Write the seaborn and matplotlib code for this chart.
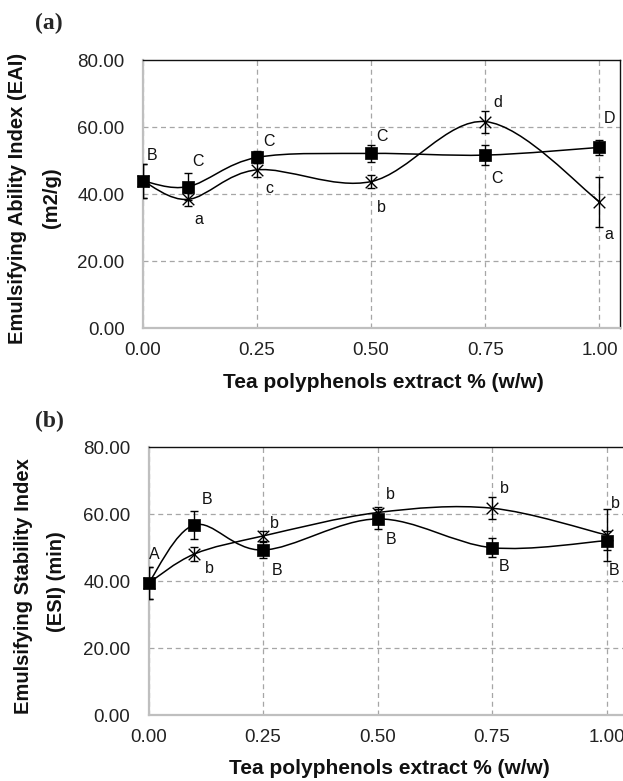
import numpy as np
import matplotlib
matplotlib.use("Agg")
import matplotlib.pyplot as plt
import seaborn as sns
from matplotlib.path import Path
from matplotlib.patches import PathPatch

# Tea polyphenols extract levels
conc = [0.0, 0.1, 0.25, 0.5, 0.75, 1.0]

# (a) EAI, m2/g
eai_sq = [44.0, 42.3, 51.0, 52.2, 51.7, 54.0]
eai_sq_err = [5.0, 4.1, 1.8, 2.6, 2.9, 2.3]
eai_x = [44.0, 38.5, 47.3, 43.8, 61.7, 37.8]
eai_x_err = [5.0, 2.0, 2.0, 2.0, 3.3, 7.5]

# (b) ESI, min
esi_sq = [39.4, 56.8, 49.3, 58.6, 50.0, 52.1]
esi_sq_err = [4.8, 4.3, 2.5, 3.0, 2.9, 2.8]
esi_x = [39.4, 48.1, 53.5, 60.5, 61.8, 53.8]
esi_x_err = [4.8, 2.0, 1.6, 1.8, 3.2, 7.7]

# significance letters (text, x, y)
eai_letters = [("B", 0.020, 51.5), ("C", 0.122, 49.7), ("a", 0.122, 32.5),
               ("C", 0.277, 55.7), ("c", 0.278, 41.8), ("C", 0.523, 57.4),
               ("b", 0.523, 36.1), ("d", 0.777, 67.5), ("C", 0.776, 44.8),
               ("D", 1.021, 62.5), ("a", 1.021, 27.9)]
esi_letters = [("A", 0.013, 48.1), ("B", 0.128, 64.5), ("b", 0.132, 43.9),
               ("b", 0.274, 57.1), ("B", 0.281, 43.3), ("b", 0.528, 65.8),
               ("B", 0.530, 52.3), ("b", 0.776, 67.8), ("B", 0.777, 44.5),
               ("b", 1.020, 63.1), ("B", 1.016, 43.3)]

yticks = [0, 20, 40, 60, 80]
xticks = [0.0, 0.25, 0.5, 0.75, 1.0]

sns.set_theme(style="white")
plt.rcParams['font.family'] = ['Liberation Sans', 'DejaVu Sans']


def smooth_path(x, y):
    # Excel-style smoothed line (Catmull-Rom as cubic Bezier)
    pts = np.column_stack([x, y]).astype(float)
    n = len(pts)
    verts = [pts[0]]
    codes = [Path.MOVETO]
    for i in range(n - 1):
        p0 = pts[max(i - 1, 0)]
        p1 = pts[i]
        p2 = pts[i + 1]
        p3 = pts[min(i + 2, n - 1)]
        verts += [p1 + (p2 - p0) / 6, p2 - (p3 - p1) / 6, p2]
        codes += [Path.CURVE4] * 3
    return Path(verts, codes)


def draw_panel(ax, sq, sq_err, xs, xs_err, letters):
    ax.set_xlim(0, 1.045)
    ax.set_ylim(0, 80)
    ax.set_xticks(xticks)
    ax.set_yticks(yticks)
    ax.set_xticklabels([f"{v:.2f}" for v in xticks])
    ax.set_yticklabels([f"{v:.2f}" for v in yticks])
    ax.tick_params(axis='x', length=0, pad=10, labelsize=13.5, colors='#222222')
    ax.tick_params(axis='y', length=0, pad=13, labelsize=13.5, colors='#222222')
    for v in xticks:
        ax.axvline(v, color='#a6a6a6', lw=0.9, ls=(0, (4, 3)), zorder=1)
    for v in yticks[1:-1]:
        ax.axhline(v, color='#a6a6a6', lw=0.9, ls=(0, (4, 3)), zorder=1)
    for side in ['left', 'bottom']:
        ax.spines[side].set_color('#bfbfbf')
        ax.spines[side].set_linewidth(1.6)
    for side in ['top', 'right']:
        ax.spines[side].set_color('#111111')
        ax.spines[side].set_linewidth(1.0)

    ax.add_patch(PathPatch(smooth_path(conc, xs), fill=False, ec='black', lw=1.1, zorder=3))
    ax.add_patch(PathPatch(smooth_path(conc, sq), fill=False, ec='black', lw=1.1, zorder=3))

    ax.errorbar(conc, xs, yerr=xs_err, fmt='none', ecolor='black', elinewidth=1,
                capsize=3, capthick=1, zorder=4)
    ax.errorbar(conc, sq, yerr=sq_err, fmt='none', ecolor='black', elinewidth=1,
                capsize=3, capthick=1, zorder=4)

    sns.scatterplot(x=conc, y=xs, marker='x', s=70, color='black', linewidth=1.0,
                    ax=ax, zorder=5, clip_on=False)
    sns.scatterplot(x=conc, y=sq, marker='s', s=75, color='black', edgecolor='black',
                    linewidth=0.5, ax=ax, zorder=6, clip_on=False)

    for txt, lx, ly in letters:
        ax.text(lx, ly, txt, fontsize=11.5, ha='center', va='center', color='#111111', zorder=7)
    ax.set_xlabel('')
    ax.set_ylabel('')


fig = plt.figure(figsize=(6.23, 7.81), dpi=100)
fig.patch.set_facecolor('white')

W, H = 623.0, 781.0
ax1 = fig.add_axes([142.7 / W, 1 - 328.3 / H, (620 - 142.7) / W, (328.3 - 60.3) / H])
ax2 = fig.add_axes([148.5 / W, 1 - 715 / H, (1.045 * 458) / W, (715 - 447.3) / H])

draw_panel(ax1, eai_sq, eai_sq_err, eai_x, eai_x_err, eai_letters)
draw_panel(ax2, esi_sq, esi_sq_err, esi_x, esi_x_err, esi_letters)

xlabel = 'Tea polyphenols extract % (w/w)'
fig.text(383 / W, 1 - 382 / H, xlabel, fontsize=15, fontweight='bold', ha='center', va='center', color='#111111')
fig.text(389 / W, 1 - 768 / H, xlabel, fontsize=15, fontweight='bold', ha='center', va='center', color='#111111')

fig.text(18 / W, 1 - 198 / H, 'Emulsifying Ability Index (EAI)', rotation=90, fontsize=14.5,
         fontweight='bold', ha='center', va='center', color='#111111')
fig.text(51 / W, 1 - 198 / H, '(m2/g)', rotation=90, fontsize=14.5,
         fontweight='bold', ha='center', va='center', color='#111111')
fig.text(24 / W, 1 - 586 / H, 'Emulsifying Stability Index', rotation=90, fontsize=14.5,
         fontweight='bold', ha='center', va='center', color='#111111')
fig.text(56 / W, 1 - 582 / H, '(ESI) (min)', rotation=90, fontsize=14.5,
         fontweight='bold', ha='center', va='center', color='#111111')

fig.text(35 / W, 1 - 23 / H, '(a)', fontsize=17, fontweight='bold', family='Liberation Serif',
         ha='left', va='center')
fig.text(35 / W, 1 - 421 / H, '(b)', fontsize=17, fontweight='bold', family='Liberation Serif',
         ha='left', va='center')

fig.savefig('out.png', dpi=100, facecolor='white')
